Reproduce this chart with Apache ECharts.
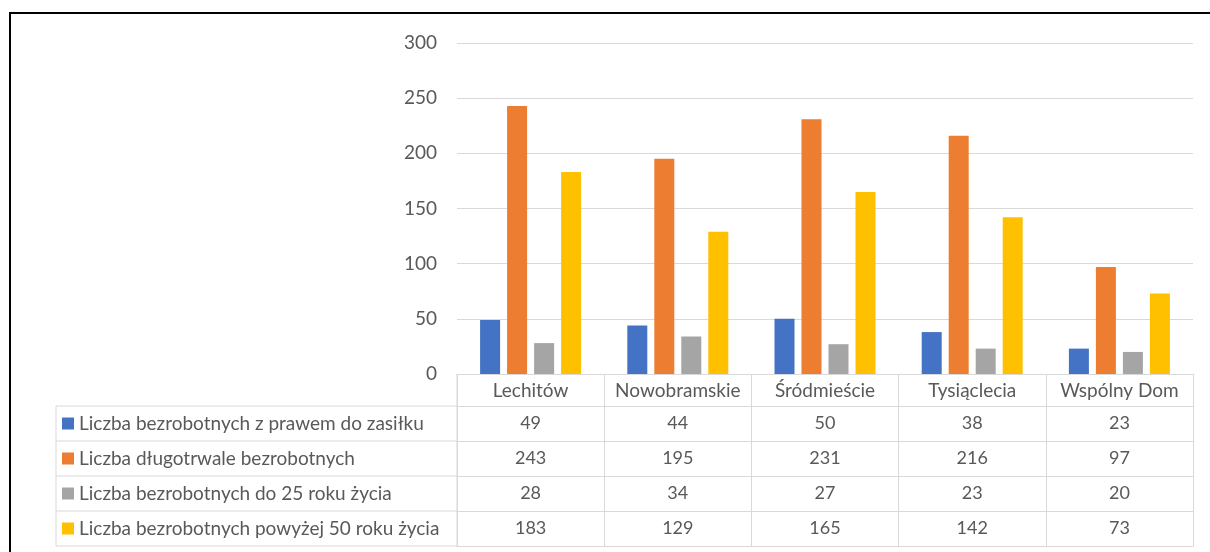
<!DOCTYPE html>
<html>
<head>
<meta charset="utf-8">
<script src="https://cdn.jsdelivr.net/npm/echarts@6/dist/echarts.min.js"></script>
<style>
  html, body { margin: 0; padding: 0; background: #fff; }
  #main { width: 1210px; height: 552px; }
</style>
</head>
<body>
<div id="main"></div>
<script>
// dane z wykresu
var districts = ['Lechitów', 'Nowobramskie', 'Śródmieście', 'Tysiąclecia', 'Wspólny Dom'];
var seriesNames = [
    'Liczba bezrobotnych z prawem do zasiłku',
    'Liczba długotrwale bezrobotnych',
    'Liczba bezrobotnych do 25 roku życia',
    'Liczba bezrobotnych powyżej 50 roku życia'
];
var withBenefit = [49, 44, 50, 38, 23];
var longTerm = [243, 195, 231, 216, 97];
var under25 = [28, 34, 27, 23, 20];
var over50 = [183, 129, 165, 142, 73];
var yTicks = [0, 50, 100, 150, 200, 250, 300];

var colors = ['#4472C4', '#ED7D31', '#A5A5A5', '#FFC000'];
var values = [withBenefit, longTerm, under25, over50];

var FONT = 'Lato';
var FS = 18;
var gridLeft = 457, gridRight = 1193, axisY = 374;
var headRow = 32, rowH = 35;
var lineColor = '#d9d9d9';

let myChart = echarts.init(document.getElementById('main'));

// osie X: nagłówek tabeli + po jednej osi na każdy wiersz tabeli danych
var xAxes = [{
    type: 'category',
    data: districts,
    gridIndex: 0,
    axisLine: { show: true, lineStyle: { color: lineColor, width: 1 } },
    axisTick: { show: true, interval: 0, length: headRow, lineStyle: { color: lineColor } },
    axisLabel: { interval: 0, margin: 7, fontFamily: FONT, fontSize: 19, color: '#595959' }
}];
values.forEach(function (row, i) {
    xAxes.push({
        type: 'category',
        data: row.map(String),
        gridIndex: 0,
        position: 'bottom',
        offset: headRow + i * rowH,
        axisLine: { show: true, lineStyle: { color: lineColor, width: 1 } },
        axisTick: { show: true, interval: 0, length: rowH, lineStyle: { color: lineColor } },
        axisLabel: { interval: 0, margin: 8, fontFamily: FONT, fontSize: FS, color: '#595959' }
    });
});
// dolna krawędź tabeli
xAxes.push({
    type: 'category',
    data: districts.map(function () { return ''; }),
    gridIndex: 0,
    position: 'bottom',
    offset: headRow + 4 * rowH,
    axisLine: { show: true, lineStyle: { color: lineColor, width: 1 } },
    axisTick: { show: false },
    axisLabel: { show: false }
});

// linie lewej kolumny tabeli (legenda)
var tableLines = [];
for (var r = 0; r <= 4; r++) {
    var yy = axisY + headRow + r * rowH;
    tableLines.push({
        type: 'line',
        shape: { x1: 56, y1: yy, x2: gridLeft, y2: yy },
        style: { stroke: lineColor, lineWidth: 1 }
    });
}
tableLines.push({
    type: 'line',
    shape: { x1: 56, y1: axisY + headRow, x2: 56, y2: axisY + headRow + 4 * rowH },
    style: { stroke: lineColor, lineWidth: 1 }
});
tableLines.push({
    type: 'line',
    shape: { x1: gridLeft, y1: axisY, x2: gridLeft, y2: axisY + headRow + 4 * rowH },
    style: { stroke: lineColor, lineWidth: 1 }
});
// ramka
tableLines.push({
    type: 'rect',
    shape: { x: 10, y: 13, width: 1300, height: 700 },
    style: { fill: 'none', stroke: '#000', lineWidth: 2 }
});

myChart.setOption({
    backgroundColor: '#FFFFFF',
    animation: false,
    color: colors,
    grid: { left: gridLeft, right: 1210 - gridRight, top: 43, bottom: 552 - axisY },
    legend: {
        orient: 'vertical',
        left: 57,
        top: axisY + headRow + 2,
        itemWidth: 12,
        itemHeight: 12,
        itemGap: 14,
        icon: 'rect',
        selectedMode: false,
        textStyle: { fontFamily: FONT, fontSize: 19, color: '#595959', lineHeight: 21 },
        data: seriesNames
    },
    xAxis: xAxes,
    yAxis: {
        type: 'value',
        min: yTicks[0],
        max: yTicks[yTicks.length - 1],
        interval: 50,
        axisLine: { show: false },
        axisTick: { show: false },
        splitLine: { lineStyle: { color: lineColor } },
        axisLabel: { margin: 20, fontFamily: FONT, fontSize: 19, color: '#595959' }
    },
    graphic: tableLines,
    series: seriesNames.map(function (name, i) {
        return {
            name: name,
            type: 'bar',
            xAxisIndex: 0,
            yAxisIndex: 0,
            barWidth: 20,
            barGap: '35%',
            data: values[i]
        };
    })
});
</script>
</body>
</html>
